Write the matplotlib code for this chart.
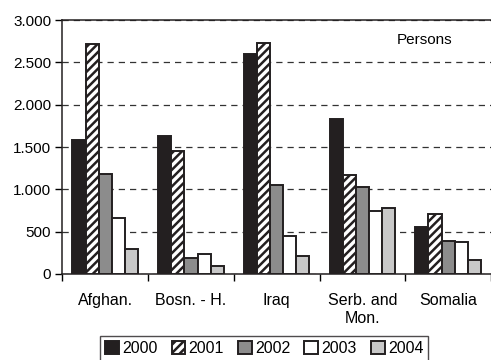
import matplotlib
matplotlib.use("Agg")
import matplotlib.pyplot as plt
import numpy as np
from matplotlib.ticker import FuncFormatter, MultipleLocator

plt.rcParams['font.family'] = ['Liberation Sans', 'DejaVu Sans']
plt.rcParams['hatch.linewidth'] = 1.8

countries = ["Afghan.", "Bosn. - H.", "Iraq", "Serb. and\nMon.", "Somalia"]
years = ["2000", "2001", "2002", "2003", "2004"]
v2000 = [1580, 1630, 2605, 1830, 560]
v2001 = [2720, 1455, 2725, 1170, 705]
v2002 = [1185, 185, 1050, 1030, 395]
v2003 = [665, 235, 450, 745, 375]
v2004 = [290, 100, 215, 785, 165]

series = [v2000, v2001, v2002, v2003, v2004]
faces = ["#231f20", "white", "#8c8c8c", "white", "#c8c8c8"]
hatches = [None, "////", None, None, None]

fig = plt.figure(figsize=(4.91, 3.6), dpi=100)
ax = fig.add_axes([0.127, 0.239, 0.873, 0.705])

x = np.arange(len(countries))
w = 0.153
for i, (vals, fc, h) in enumerate(zip(series, faces, hatches)):
    ax.bar(x + (i - 2) * w, vals, w, color=fc, edgecolor="#231f20",
           linewidth=1.4, hatch=h, label=years[i], zorder=3)

ax.set_ylim(0, 3000)
ax.set_xlim(-0.5, len(countries) - 0.5)
ax.yaxis.set_major_locator(MultipleLocator(500))
ax.yaxis.set_major_formatter(FuncFormatter(lambda v, p: f"{int(v):,}".replace(",", ".")))
ax.grid(axis="y", linestyle=(0, (5, 4)), color="#333333", linewidth=0.9, zorder=0)

# group boundaries get the tick marks, names sit centred under each group
ax.set_xticks(np.arange(len(countries) + 1) - 0.5, minor=False)
ax.set_xticklabels([])
ax.set_xticks(x, minor=True)
ax.set_xticklabels(countries, minor=True, fontsize=11.5)
ax.tick_params(axis="x", which="minor", length=0, pad=14)
ax.tick_params(axis="x", which="major", length=5, direction="out", width=1)
ax.tick_params(axis="y", length=5, direction="out", width=1, labelsize=11, pad=3)

for s in ["left", "top", "bottom"]:
    ax.spines[s].set_color("#231f20")
    ax.spines[s].set_linewidth(1.1)
ax.spines["right"].set_visible(False)

ax.text(0.845, 0.92, "Persons", transform=ax.transAxes, ha="center",
        va="center", fontsize=11)

leg = fig.legend(loc="lower center", bbox_to_anchor=(0.538, -0.025), ncol=5,
                 frameon=True, fancybox=False, fontsize=11.5,
                 handlelength=0.85, handleheight=0.85, handletextpad=0.2,
                 columnspacing=0.9, borderpad=0.3)
leg.get_frame().set_edgecolor("#231f20")
leg.get_frame().set_linewidth(1.0)

fig.savefig("out.png", dpi=100)
